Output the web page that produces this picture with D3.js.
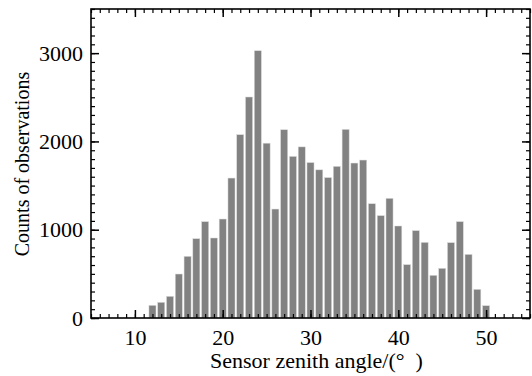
<!DOCTYPE html>
<html>
<head>
<meta charset="utf-8">
<script src="https://cdn.jsdelivr.net/npm/d3@7"></script>
<style>
  body { margin: 0; background: #fff; }
  text { font-family: "Liberation Serif", "Times New Roman", serif; fill: #000; }
</style>
</head>
<body>
<div id="chart"></div>
<script>
// zenith angle bins (deg) and counts
var angles = [12, 13, 14, 15, 16, 17, 18, 19, 20, 21, 22, 23, 24, 25, 26, 27, 28, 29, 30, 31,
  32, 33, 34, 35, 36, 37, 38, 39, 40, 41, 42, 43, 44, 45, 46, 47, 48, 49, 50];
var counts = [143, 177, 245, 498, 698, 898, 1091, 906, 1121, 1585, 2076, 2503, 3027, 1980, 1234, 2132, 1830, 1938, 1760, 1678,
  1590, 1717, 2136, 1755, 1789, 1294, 1159, 1355, 1042, 604, 989, 856, 483, 562, 853, 1091, 720, 324, 139];
var xTicks = [10, 20, 30, 40, 50];
var yTicks = [0, 1000, 2000, 3000];

var W = 532, H = 376;
var margin = {top: 9, right: 2, bottom: 58, left: 91};

var svg = d3.select("#chart").append("svg")
  .attr("width", W)
  .attr("height", H);

var x = d3.scaleLinear().domain([5, 55]).range([margin.left, W - margin.right]);
var y = d3.scaleLinear().domain([0, 3500]).range([H - margin.bottom, margin.top]);

var data = angles.map(function(a, i) { return {a: a, c: counts[i]}; });

// bars
svg.append("g").selectAll("rect")
  .data(data)
  .enter().append("rect")
  .attr("x", d => x(d.a - 0.4))
  .attr("width", d => x(d.a + 0.4) - x(d.a - 0.4))
  .attr("y", d => y(d.c))
  .attr("height", d => y(0) - y(d.c))
  .attr("fill", "#828282")
  .attr("stroke", "#d8d8d8")
  .attr("stroke-width", 0.5);

// inward ticks on all four sides
var xMinor = d3.range(5, 56, 1);
var yMinor = d3.range(0, 3501, 100);

var axB = d3.axisBottom(x).tickValues(xTicks).tickSize(-8).tickPadding(11).tickFormat(d3.format("d"));
var axT = d3.axisTop(x).tickValues(xTicks).tickSize(-8).tickFormat("");
var axL = d3.axisLeft(y).tickValues(yTicks).tickSize(-8).tickPadding(8).tickFormat(d3.format("d"));
var axR = d3.axisRight(y).tickValues(yTicks).tickSize(-8).tickFormat("");

function minor(g, axis) {
  g.call(axis);
  g.select(".domain").remove();
  g.selectAll("line").attr("stroke", "#000").attr("stroke-width", 1.2);
}

minor(svg.append("g").attr("transform", "translate(0," + y(0) + ")"),
  d3.axisBottom(x).tickValues(xMinor).tickSize(-4).tickFormat(""));
minor(svg.append("g").attr("transform", "translate(0," + y(3500) + ")"),
  d3.axisTop(x).tickValues(xMinor).tickSize(-4).tickFormat(""));
minor(svg.append("g").attr("transform", "translate(" + x(5) + ",0)"),
  d3.axisLeft(y).tickValues(yMinor).tickSize(-4).tickFormat(""));
minor(svg.append("g").attr("transform", "translate(" + x(55) + ",0)"),
  d3.axisRight(y).tickValues(yMinor).tickSize(-4).tickFormat(""));

function major(g, axis) {
  g.call(axis);
  g.select(".domain").remove();
  g.selectAll("line").attr("stroke", "#000").attr("stroke-width", 1.5);
  g.selectAll("text").style("font-size", "22px");
}

major(svg.append("g").attr("transform", "translate(0," + y(0) + ")"), axB);
major(svg.append("g").attr("transform", "translate(0," + y(3500) + ")"), axT);
major(svg.append("g").attr("transform", "translate(" + x(5) + ",0)"), axL);
major(svg.append("g").attr("transform", "translate(" + x(55) + ",0)"), axR);

// frame
svg.append("rect")
  .attr("x", x(5))
  .attr("y", y(3500))
  .attr("width", x(55) - x(5))
  .attr("height", y(0) - y(3500))
  .attr("fill", "none")
  .attr("stroke", "#000")
  .attr("stroke-width", 1.6);

// axis titles
svg.append("text")
  .attr("x", (x(5) + x(55)) / 2 + 6)
  .attr("y", 368)
  .attr("text-anchor", "middle")
  .style("font-size", "22px")
  .style("white-space", "pre")
  .text("Sensor zenith angle/(°  )");

svg.append("text")
  .attr("transform", "translate(29,164) rotate(-90)")
  .attr("text-anchor", "middle")
  .style("font-size", "20px")
  .text("Counts of observations");
</script>
</body>
</html>
